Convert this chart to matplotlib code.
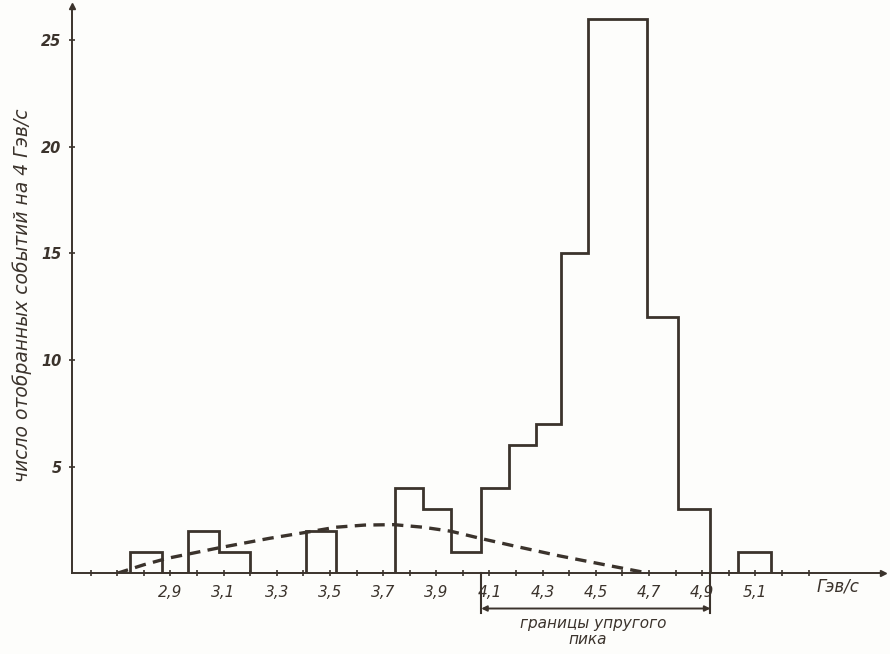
import matplotlib
matplotlib.use("Agg")
import matplotlib.pyplot as plt

# ---- data ----
bin_edges = [2.75, 2.867, 2.966, 3.083, 3.201, 3.411, 3.523, 3.743, 3.85, 3.956,
             4.069, 4.173, 4.276, 4.37, 4.472, 4.694, 4.808, 4.931, 5.034, 5.159]
counts = [1, 0, 2, 1, 0, 2, 0, 4, 3, 1, 4, 6, 7, 15, 26, 12, 3, 0, 1]

bg_x = [2.70, 2.80, 2.888, 3.085, 3.273, 3.41, 3.523, 3.63, 3.74, 3.85, 3.955, 4.068, 4.20, 4.362, 4.55, 4.70]
bg_y = [0.0, 0.40, 0.70, 1.20, 1.64, 1.92, 2.16, 2.26, 2.28, 2.16, 1.97, 1.63, 1.26, 0.82, 0.36, 0.0]

x_ticks = [2.6, 2.7, 2.8, 2.9, 3.0, 3.1, 3.2, 3.3, 3.4, 3.5, 3.6, 3.7, 3.8, 3.9, 4.0,
           4.1, 4.2, 4.3, 4.4, 4.5, 4.6, 4.7, 4.8, 4.9, 5.0, 5.1, 5.2, 5.3]
x_labels = ["", "", "", "2,9", "", "3,1", "", "3,3", "", "3,5", "", "3,7", "", "3,9", "",
            "4,1", "", "4,3", "", "4,5", "", "4,7", "", "4,9", "", "5,1", "", ""]
y_ticks = [5, 10, 15, 20, 25]
y_labels = ["5", "10", "15", "20", "25"]

peak_bounds = [4.069, 4.931]

ink = "#3b332c"
font = {"family": "DejaVu Sans", "style": "italic"}

fig = plt.figure(figsize=(8.9, 6.54), dpi=100)
fig.patch.set_facecolor("#fdfdfb")
ax = fig.add_axes([72 / 890, (654 - 573.3) / 654, 811 / 890, 567.6 / 654])
ax.set_facecolor("#fdfdfb")
ax.set_xlim(2.53, 5.58)
ax.set_ylim(0, 26.6)

for s in ("top", "right"):
    ax.spines[s].set_visible(False)
for s in ("left", "bottom"):
    ax.spines[s].set_color(ink)
    ax.spines[s].set_linewidth(1.4)

# arrows at axis ends
ax.plot(1, 0, marker=">", color=ink, markersize=5, transform=ax.transAxes, clip_on=False)
ax.plot(0, 1, marker="^", color=ink, markersize=4, transform=ax.transAxes, clip_on=False)

# histogram outline
ax.stairs(counts, bin_edges, baseline=0, fill=False, color=ink, linewidth=2.0)

# background curve (dashed)
ax.plot(bg_x, bg_y, linestyle=(0, (3.4, 2.2)), color=ink, linewidth=2.4)

# ticks
ax.set_xticks(x_ticks)
ax.set_xticklabels(x_labels, fontdict=font, fontsize=11, color=ink)
ax.set_yticks(y_ticks)
ax.set_yticklabels(y_labels, fontdict=font, fontsize=10.5, color=ink, fontweight="bold")
ax.tick_params(axis="x", direction="inout", length=5, width=1.2, color=ink, pad=6)
ax.tick_params(axis="y", direction="inout", length=5, width=1.2, color=ink, pad=5)

# axis labels
fig.text(22 / 890, 1 - 295 / 654, "число отобранных событий на 4 Гэв/с",
         rotation=90, ha="center", va="center", fontsize=13.5, color=ink, **font)
ax.text(5.41, -0.6, "Гэв/с", ha="center", va="center", fontsize=12, color=ink, **font)

# elastic peak bracket
for xb in peak_bounds:
    ax.plot([xb, xb], [0, -1.85], color=ink, linewidth=1.5, clip_on=False)
ax.annotate("", xy=(peak_bounds[1], -1.65), xytext=(peak_bounds[0], -1.65),
            arrowprops=dict(arrowstyle="<|-|>", color=ink, lw=1.4,
                            mutation_scale=8, shrinkA=0, shrinkB=0),
            annotation_clip=False)
ax.text(4.49, -2.35, "границы упругого", ha="center", va="center",
        fontsize=11, color=ink, clip_on=False, **font)
ax.text(4.47, -3.12, "пика", ha="center", va="center", fontsize=11,
        color=ink, clip_on=False, **font)

fig.savefig("out.png", dpi=100, facecolor=fig.get_facecolor())
